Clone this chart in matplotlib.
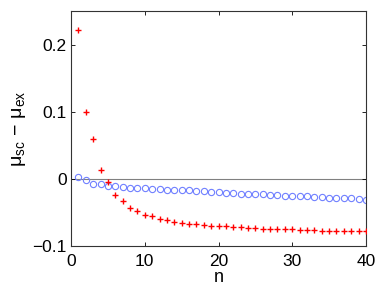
import numpy as np
import matplotlib
matplotlib.use('Agg')
import matplotlib.pyplot as plt

plt.rcParams['font.family'] = ['Liberation Sans', 'DejaVu Sans']
plt.rcParams['mathtext.fontset'] = 'custom'
plt.rcParams['mathtext.rm'] = 'Liberation Sans'
plt.rcParams['mathtext.it'] = 'Liberation Sans'

n = np.arange(1, 41)
mu_red = [0.222, 0.100, 0.060, 0.0135, -0.004, -0.024, -0.033, -0.043, -0.048, -0.054,
          -0.056, -0.060, -0.062, -0.064, -0.066, -0.067, -0.068, -0.069, -0.070, -0.071,
          -0.071, -0.072, -0.072, -0.073, -0.073, -0.074, -0.074, -0.075, -0.075, -0.075,
          -0.076, -0.076, -0.076, -0.077, -0.077, -0.077, -0.077, -0.078, -0.078, -0.078]
mu_blue = [0.003, -0.002, -0.007, -0.008, -0.010, -0.011, -0.012, -0.013, -0.014, -0.014,
           -0.015, -0.015, -0.016, -0.016, -0.017, -0.017, -0.018, -0.018, -0.019, -0.020,
           -0.021, -0.021, -0.022, -0.022, -0.023, -0.023, -0.024, -0.024, -0.025, -0.025,
           -0.026, -0.026, -0.027, -0.027, -0.028, -0.028, -0.029, -0.029, -0.030, -0.031]

fig = plt.figure(figsize=(3.82, 2.86), dpi=100)
ax = fig.add_axes([0.186, 0.140, 0.772, 0.8215])

ax.axhline(0, color='#808080', lw=0.8, zorder=1)
ax.plot(n, mu_blue, 'o', ms=4.5, mfc='none', mec='#7080ff', mew=0.8, zorder=2)
ax.plot(n, mu_red, '+', ms=5, color='red', mew=1.0, zorder=3)

ax.set_xlim(0, 40)
ax.set_ylim(-0.1, 0.25)
ax.set_xticks([0, 10, 20, 30, 40])
ax.set_yticks([-0.1, 0, 0.1, 0.2])
ax.set_yticklabels(['\u22120.1', '0', '0.1', '0.2'])
ax.tick_params(direction='in', top=True, right=True, labelsize=12.5, length=3, width=0.6)
ax.tick_params(axis='x', pad=6)
ax.tick_params(axis='y', pad=3)
for s in ax.spines.values():
    s.set_linewidth(0.8)
    s.set_color('#333333')

ax.set_xlabel('n', fontsize=13, labelpad=0)
ax.set_ylabel(r'$\mathregular{\mu_{sc}\,-\,\mu_{ex}}$', fontsize=14, labelpad=3)

fig.savefig('out.png', dpi=100)
